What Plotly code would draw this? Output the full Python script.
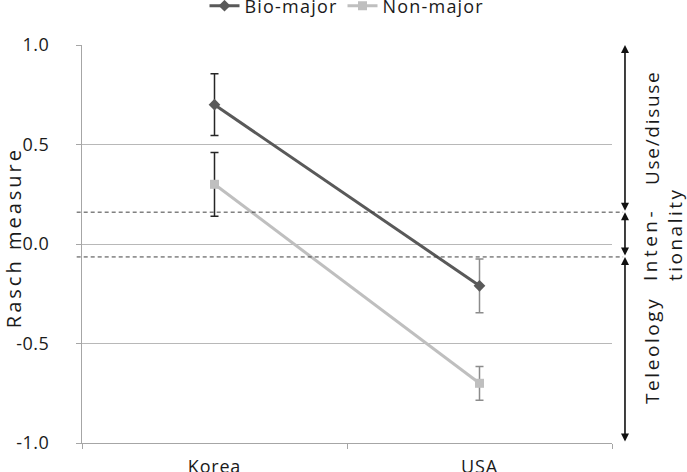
import plotly.graph_objects as go

countries = ["Korea", "USA"]
bio_major = [0.70, -0.21]
bio_err = [0.155, 0.135]
non_major = [0.30, -0.70]
non_err = [0.16, 0.085]
err_colors = ["#262626", "#8c8c8c"]
y_ticks = [1.0, 0.5, 0.0, -0.5, -1.0]
y_tick_text = ["1.0", "0.5", "0.0", "-0.5", "-1.0"]
bounds = [0.16, -0.065]
zones = [("Use/disuse", 1.0, 0.16), ("Inten-<br>tionality", 0.16, -0.065), ("Teleology", -0.065, -1.0)]

FONT = "Open Sans"
TXT = "#1a1a1a"
PX_PER_UNIT = 398 / 2.0


def sp(t, ls):
    return f'<span style="letter-spacing:{ls}px">{t}</span>'


fig = go.Figure()

# error bars per country (colour differs by country)
for i, c in enumerate(countries):
    fig.add_trace(go.Scatter(
        x=[c, c], y=[bio_major[i], non_major[i]], mode="markers",
        marker=dict(size=1, opacity=0), showlegend=False, hoverinfo="skip",
        error_y=dict(type="data", array=[bio_err[i], non_err[i]], color=err_colors[i],
                     thickness=1.5, width=4)))

fig.add_trace(go.Scatter(x=countries, y=bio_major, mode="lines+markers", name=sp("Bio-major", 1.2),
                         line=dict(color="#595959", width=3),
                         marker=dict(symbol="diamond", size=9, color="#595959")))
fig.add_trace(go.Scatter(x=countries, y=non_major, mode="lines+markers", name=sp("Non-major", 1.2),
                         line=dict(color="#bfbfbf", width=3),
                         marker=dict(symbol="square", size=9, color="#bfbfbf")))

shapes = []
for b in bounds:
    shapes.append(dict(type="line", xref="paper", yref="y", x0=-0.01, x1=1.021, y0=b, y1=b,
                       line=dict(color="#404040", width=1, dash="4px,3px")))

annotations = []
ax_x = 1.0245
for label, top, bot in zones:
    annotations.append(dict(x=ax_x, y=top, ax=0, ay=(top - bot) * PX_PER_UNIT,
                            xref="paper", yref="y", axref="pixel", ayref="pixel",
                            showarrow=True, arrowside="end+start", arrowhead=2, arrowsize=1,
                            arrowwidth=1.6, arrowcolor="#111111", standoff=0, startstandoff=0, text=""))
tfont = dict(family=FONT, size=19, color=TXT)
annotations.append(dict(x=1.0755, y=0.583, xref="paper", yref="y", text=sp("Use/disuse", 1.7),
                        showarrow=False, textangle=-90, xanchor="center", yanchor="middle", font=tfont))
annotations.append(dict(x=1.0943, y=0.05, xref="paper", yref="y",
                        text=sp("Inten-", 3.5) + "<br>" + sp("tionality", 2.5),
                        showarrow=False, textangle=-90, xanchor="center", yanchor="middle",
                        align="left", font=tfont))
annotations.append(dict(x=1.0755, y=-0.533, xref="paper", yref="y", text=sp("Teleology", 2.6),
                        showarrow=False, textangle=-90, xanchor="center", yanchor="middle", font=tfont))
# y-axis title
annotations.append(dict(x=-0.13, y=0.03, xref="paper", yref="y", text=sp("Rasch measure", 3),
                        showarrow=False, textangle=-90, xanchor="center", yanchor="middle",
                        font=dict(family=FONT, size=20, color=TXT)))

fig.update_layout(
    width=687, height=472,
    margin=dict(l=82, r=75, t=45, b=29, autoexpand=False),
    plot_bgcolor="white", paper_bgcolor="white",
    font=dict(family=FONT, size=18, color=TXT),
    shapes=shapes, annotations=annotations,
    legend=dict(orientation="h", x=0.5, xanchor="center", y=1.098, yanchor="middle",
                font=dict(family=FONT, size=18, color=TXT), bgcolor="rgba(0,0,0,0)",
                itemwidth=30, tracegroupgap=0),
)
fig.update_xaxes(type="category", range=[-0.5, 1.5], showgrid=False, showline=True,
                 tickvals=countries, ticktext=[sp(c, 0.8) for c in countries],
                 linecolor="#a6a6a6", linewidth=1, ticks="outside", tickson="boundaries",
                 ticklen=5, tickcolor="#a6a6a6", tickfont=dict(size=18), zeroline=False,
                 ticklabelstandoff=7)
fig.update_yaxes(range=[-1.0, 1.0], tickvals=y_ticks, ticktext=[sp(t, 0.5) for t in y_tick_text],
                 showgrid=True, gridcolor="#b8b8b8", gridwidth=1, showline=True, linecolor="#a6a6a6",
                 ticks="outside", ticklen=5, tickcolor="#a6a6a6", zeroline=False,
                 ticklabelstandoff=23, tickfont=dict(size=18))

fig.write_html("out.html")
